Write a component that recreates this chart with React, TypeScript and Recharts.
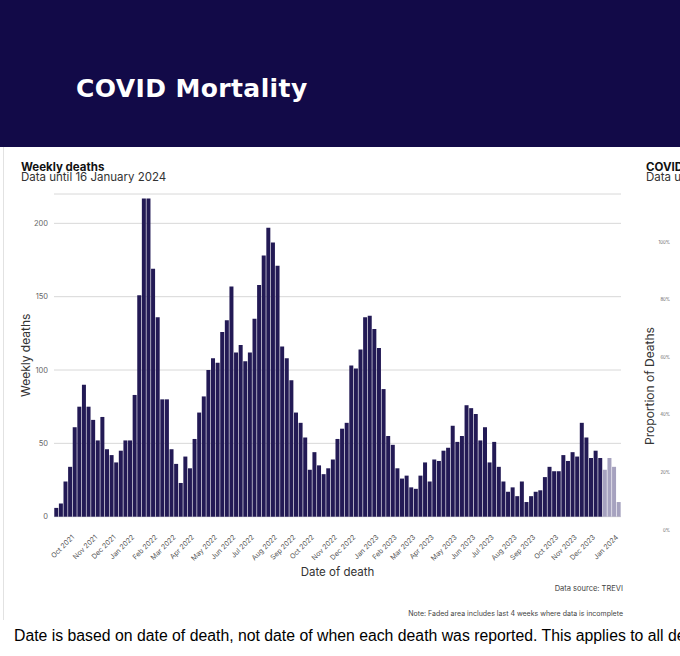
import { BarChart, Bar, XAxis, YAxis, CartesianGrid, Cell, Label } from 'recharts';

const FONT = 'Inter, "Noto Sans", sans-serif';
const DARK = '#231a55';
const FADED = '#a6a2bf';
const HEADER = '#120a48';

// week starting dates, one bar per week
const firstWeek = '2021-09-04';
const weeklyDeaths = [
  6, 9, 24, 34, 61, 75, 90, 75, 66, 52, 68, 46, 42, 37, 45, 52, 52, 83, 151, 217,
  217, 169, 136, 80, 80, 46, 36, 23, 41, 33, 53, 71, 82, 100, 108, 105, 126, 134, 157, 112,
  117, 106, 112, 135, 158, 178, 197, 187, 171, 116, 108, 93, 71, 64, 54, 32, 44, 35, 29, 33,
  39, 53, 60, 64, 103, 101, 114, 136, 137, 128, 115, 87, 55, 49, 33, 26, 28, 20, 19, 28,
  37, 24, 39, 38, 45, 47, 62, 51, 55, 76, 74, 70, 52, 61, 37, 51, 34, 24, 17, 20,
  14, 24, 10, 14, 17, 18, 27, 34, 31, 31, 42, 38, 44, 41, 64, 54, 40, 45, 40, 32,
  40, 34, 10,
];
const incompleteWeeks = 4;
const deathTicks = [0, 50, 100, 150, 200];
const proportionTicks = [0, 0.2, 0.4, 0.6, 0.8, 1];
const monthNames = ['Jan', 'Feb', 'Mar', 'Apr', 'May', 'Jun', 'Jul', 'Aug', 'Sep', 'Oct', 'Nov', 'Dec'];

const weeks = weeklyDeaths.map((_, i) => {
  const d = new Date(firstWeek + 'T00:00:00Z');
  d.setUTCDate(d.getUTCDate() + 7 * i);
  return d.toISOString().slice(0, 10);
});
const data = weeklyDeaths.map((deaths, i) => ({ week: weeks[i], deaths }));
// first week of each new month gets a label
const monthTicks = weeks.filter((w, i) => i > 0 && w.slice(0, 7) !== weeks[i - 1].slice(0, 7));

const monthLabel = (w: string) => `${monthNames[Number(w.slice(5, 7)) - 1]} ${w.slice(0, 4)}`;

function MonthTick({ x, y, payload }: any) {
  return (
    <g transform={`translate(${x},${y + 21}) rotate(-45)`}>
      <text x={0} y={0} textAnchor="end" fontSize={7} fill="#555" fontFamily={FONT}>
        {monthLabel(payload.value)}
      </text>
    </g>
  );
}

function sideLabel(text: string, dx: number) {
  return ({ viewBox }: any) => {
    const cx = viewBox.x + dx;
    const cy = viewBox.y + viewBox.height / 2;
    return (
      <text x={cx} y={cy} transform={`rotate(-90 ${cx} ${cy})`} textAnchor="middle"
        dominantBaseline="central" fontSize={12} fill="#333" fontFamily={FONT}>
        {text}
      </text>
    );
  };
}

const abs = (left: number, top: number, extra: React.CSSProperties = {}): React.CSSProperties => ({
  position: 'absolute', left, top, whiteSpace: 'nowrap', ...extra,
});

export default function App() {
  return (
    <div style={{ position: 'absolute', left: 0, top: 0, width: 680, height: 656, overflow: 'hidden', background: '#fff', fontFamily: FONT }}>
      <div style={{ position: 'absolute', left: 0, top: 0, width: 680, height: 147, background: HEADER }} />
      <div style={abs(76, 75.5, { color: '#fff', fontSize: 25, fontWeight: 700, lineHeight: '25px', letterSpacing: 0.4, fontFamily: '"DejaVu Sans", sans-serif' })}>
        COVID Mortality
      </div>

      <div style={{ position: 'absolute', left: 3, top: 147, width: 1, height: 473, background: '#e2e2e2' }} />

      <div style={abs(21, 161.5, { fontSize: 11.5, fontWeight: 700, lineHeight: '10px', color: '#111' })}>Weekly deaths</div>
      <div style={abs(21, 171.5, { fontSize: 11.5, lineHeight: '10px', color: '#333' })}>Data until 16 January 2024</div>

      <div style={{ position: 'absolute', left: 0, top: 150 }}>
        <BarChart width={640} height={440} data={data} margin={{ top: 44, right: 19, left: 0, bottom: 0 }} barCategoryGap="6%">
          <CartesianGrid vertical={false} stroke="#d8d8d8" />
          <XAxis dataKey="week" ticks={monthTicks} interval={0} tick={<MonthTick />} tickLine={false}
            axisLine={false} tickSize={0} tickMargin={0} height={73.3}>
            <Label value="Date of death" position="insideBottom" offset={14} fontSize={11.5} fill="#333" fontFamily={FONT} />
          </XAxis>
          <YAxis domain={[0, 220]} ticks={deathTicks} width={54} tickLine={false} axisLine={false}
            tickSize={0} tickMargin={6} tick={{ fontSize: 7.5, fill: '#666', fontFamily: FONT }}>
            <Label content={sideLabel('Weekly deaths', 26)} />
          </YAxis>
          <Bar dataKey="deaths" isAnimationActive={false}>
            {data.map((d, i) => (
              <Cell key={d.week} fill={i >= data.length - incompleteWeeks ? FADED : DARK} />
            ))}
          </Bar>
        </BarChart>
      </div>

      <div style={abs(0, 585, { width: 623, textAlign: 'right', fontSize: 7.5, lineHeight: '7.5px', color: '#444' })}>Data source: TREVI</div>
      <div style={abs(0, 610, { width: 623, textAlign: 'right', fontSize: 7, lineHeight: '7px', color: '#444' })}>
        Note: Faded area includes last 4 weeks where data is incomplete
      </div>

      <div style={abs(646, 161.5, { fontSize: 11.5, fontWeight: 700, lineHeight: '10px', color: '#111' })}>COVID deaths by age group</div>
      <div style={abs(646, 171.5, { fontSize: 11.5, lineHeight: '10px', color: '#333' })}>Data until 16 January 2024</div>

      <div style={{ position: 'absolute', left: 630, top: 150 }}>
        <BarChart width={400} height={440} data={[]} margin={{ top: 92, right: 10, left: 0, bottom: 60 }}>
          <XAxis hide />
          <YAxis type="number" domain={[0, 1]} allowDataOverflow ticks={proportionTicks} width={46} tickLine={false} axisLine={false}
            tickSize={0} tickMargin={6} tickFormatter={(v: number) => `${Math.round(v * 100)}%`}
            tick={{ fontSize: 4.3, fill: '#666', fontFamily: FONT }}>
            <Label content={sideLabel('Proportion of Deaths', 19)} />
          </YAxis>
        </BarChart>
      </div>

      <div style={abs(14, 628.4, { fontFamily: '"Liberation Sans", Arial, sans-serif', fontSize: 15.8, lineHeight: '15.8px', color: '#000' })}>
        Date is based on date of death, not date of when each death was reported. This applies to all deaths data.
      </div>
    </div>
  );
}
